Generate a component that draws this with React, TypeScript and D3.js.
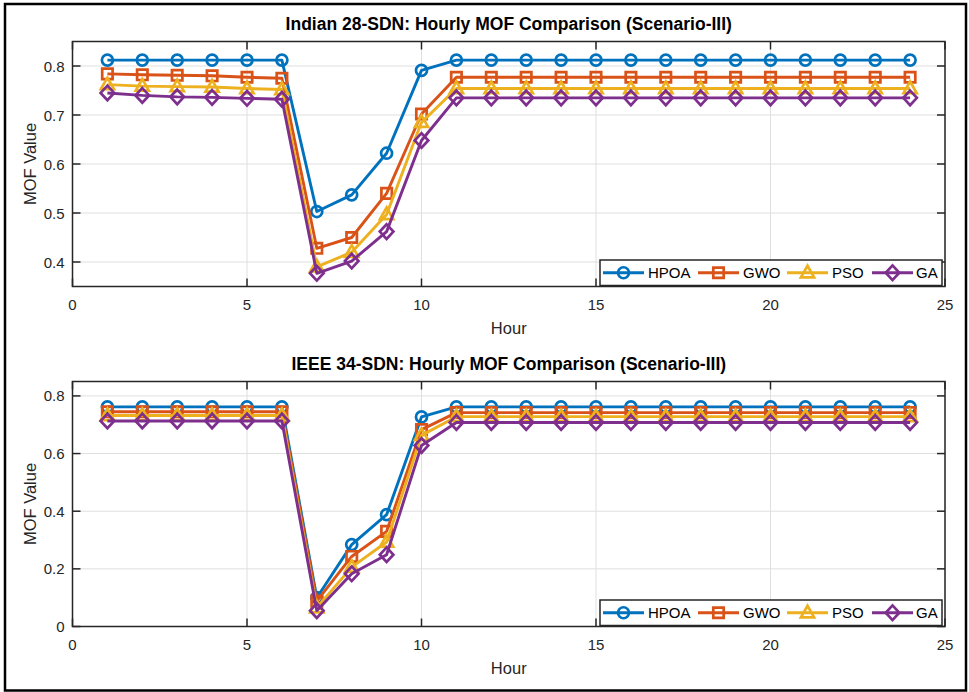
import React from "react";
import * as d3 from "d3";

// Hours on the x axis
const hours = [1, 2, 3, 4, 5, 6, 7, 8, 9, 10, 11, 12, 13, 14, 15, 16, 17, 18, 19, 20, 21, 22, 23, 24];

// Indian 28-SDN, Scenario-III
const indianHPOA = [0.812, 0.812, 0.812, 0.812, 0.812, 0.812, 0.503, 0.537, 0.622, 0.791, 0.812, 0.812, 0.812, 0.812, 0.812, 0.812, 0.812, 0.812, 0.812, 0.812, 0.812, 0.812, 0.812, 0.812];
const indianGWO = [0.784, 0.782, 0.781, 0.780, 0.777, 0.775, 0.428, 0.450, 0.540, 0.702, 0.777, 0.777, 0.777, 0.777, 0.777, 0.777, 0.777, 0.777, 0.777, 0.777, 0.777, 0.777, 0.777, 0.777];
const indianPSO = [0.762, 0.759, 0.758, 0.757, 0.754, 0.752, 0.390, 0.420, 0.497, 0.685, 0.754, 0.754, 0.754, 0.754, 0.754, 0.754, 0.754, 0.754, 0.754, 0.754, 0.754, 0.754, 0.754, 0.754];
const indianGA = [0.745, 0.740, 0.737, 0.736, 0.734, 0.732, 0.377, 0.402, 0.462, 0.648, 0.735, 0.735, 0.735, 0.735, 0.735, 0.735, 0.735, 0.735, 0.735, 0.735, 0.735, 0.735, 0.735, 0.735];

// IEEE 34-SDN, Scenario-III
const ieeeHPOA = [0.762, 0.762, 0.762, 0.762, 0.762, 0.762, 0.100, 0.284, 0.388, 0.727, 0.762, 0.762, 0.762, 0.762, 0.762, 0.762, 0.762, 0.762, 0.762, 0.762, 0.762, 0.762, 0.762, 0.762];
const ieeeGWO = [0.745, 0.745, 0.745, 0.745, 0.745, 0.745, 0.088, 0.243, 0.330, 0.683, 0.742, 0.742, 0.742, 0.742, 0.742, 0.742, 0.742, 0.742, 0.742, 0.742, 0.742, 0.742, 0.742, 0.742];
const ieeePSO = [0.732, 0.732, 0.732, 0.732, 0.732, 0.732, 0.065, 0.206, 0.293, 0.663, 0.728, 0.728, 0.728, 0.728, 0.728, 0.728, 0.728, 0.728, 0.728, 0.728, 0.728, 0.728, 0.728, 0.728];
const ieeeGA = [0.713, 0.713, 0.713, 0.713, 0.713, 0.713, 0.055, 0.183, 0.249, 0.628, 0.708, 0.708, 0.708, 0.708, 0.708, 0.708, 0.708, 0.708, 0.708, 0.708, 0.708, 0.708, 0.708, 0.708];

const seriesNames = ["HPOA", "GWO", "PSO", "GA"];
const seriesColors = ["#0072BD", "#D95319", "#EDB120", "#7E2F8E"];
const seriesMarkers = ["circle", "square", "triangle", "diamond"];

const xTicks = [0, 5, 10, 15, 20, 25];
const indianYTicks = [0.4, 0.5, 0.6, 0.7, 0.8];
const ieeeYTicks = [0, 0.2, 0.4, 0.6, 0.8];

const W = 969;
const H = 692;
const FONT = "'Liberation Sans', Arial, Helvetica, sans-serif";
const AXIS_COLOR = "#262626";
const GRID_COLOR = "#dfdfdf";

const panels = [
  {
    title: "Indian 28-SDN: Hourly MOF Comparison (Scenario-III)",
    yDomain: [0.35, 0.85],
    yTicks: indianYTicks,
    top: 41.5,
    bottom: 286.5,
    series: [indianHPOA, indianGWO, indianPSO, indianGA],
  },
  {
    title: "IEEE 34-SDN: Hourly MOF Comparison (Scenario-III)",
    yDomain: [0, 0.85],
    yTicks: ieeeYTicks,
    top: 381.5,
    bottom: 626.5,
    series: [ieeeHPOA, ieeeGWO, ieeePSO, ieeeGA],
  },
];

const LEFT = 72.5;
const RIGHT = 945;

function markerPath(kind: string): string {
  switch (kind) {
    case "circle":
      return "M5.5,0A5.5,5.5 0 1,1 -5.5,0A5.5,5.5 0 1,1 5.5,0Z";
    case "square":
      return "M-5.2,-5.2L5.2,-5.2L5.2,5.2L-5.2,5.2Z";
    case "triangle":
      return "M0,-7L6.6,4.6L-6.6,4.6Z";
    case "diamond":
      return "M0,-7.3L6.8,0L0,7.3L-6.8,0Z";
    default:
      return "";
  }
}

function fmtTick(v: number): string {
  return v === 0 ? "0" : v.toFixed(1);
}

// Legend item layout: line sample start, text start (relative to legend box)
const legendItems = [
  { line: 3, text: 48 },
  { line: 98, text: 143 },
  { line: 187, text: 232 },
  { line: 272, text: 316 },
];

function Panel({ p }: { p: (typeof panels)[number] }) {
  const x = d3.scaleLinear().domain([0, 25]).range([LEFT, RIGHT]);
  const y = d3.scaleLinear().domain(p.yDomain).range([p.bottom, p.top]);
  const line = d3
    .line<number>()
    .x((_, i) => x(hours[i]))
    .y((d) => y(d));
  const tick = 8;
  const legW = 342;
  const legH = 25.5;
  const legX = 600;
  const legY = p.bottom - legH - 1;
  return (
    <g>
      <rect x={LEFT} y={p.top} width={RIGHT - LEFT} height={p.bottom - p.top} fill="#fff" />
      {/* grid */}
      {xTicks.map((t) => (
        <line key={"gx" + t} x1={x(t)} x2={x(t)} y1={p.top} y2={p.bottom} stroke={GRID_COLOR} strokeWidth={1} />
      ))}
      {p.yTicks.map((t) => (
        <line key={"gy" + t} x1={LEFT} x2={RIGHT} y1={y(t)} y2={y(t)} stroke={GRID_COLOR} strokeWidth={1} />
      ))}
      {/* series lines */}
      {p.series.map((s, si) => (
        <g key={"s" + si}>
          <path d={line(s) || ""} fill="none" stroke={seriesColors[si]} strokeWidth={2.9} strokeLinejoin="round" />
          {s.map((v, i) => (
            <path
              key={i}
              d={markerPath(seriesMarkers[si])}
              transform={`translate(${x(hours[i])},${y(v)})`}
              fill="none"
              stroke={seriesColors[si]}
              strokeWidth={2.7}
            />
          ))}
        </g>
      ))}
      {/* ticks inside on all sides */}
      {xTicks.map((t) => (
        <g key={"tx" + t}>
          <line x1={x(t)} x2={x(t)} y1={p.bottom} y2={p.bottom - tick} stroke={AXIS_COLOR} strokeWidth={1.5} />
          <line x1={x(t)} x2={x(t)} y1={p.top} y2={p.top + tick} stroke={AXIS_COLOR} strokeWidth={1.5} />
          <text x={x(t)} y={p.bottom + 23} textAnchor="middle" fontSize={15} fill={AXIS_COLOR} fontFamily={FONT}>
            {t}
          </text>
        </g>
      ))}
      {p.yTicks.map((t) => (
        <g key={"ty" + t}>
          <line x1={LEFT} x2={LEFT + tick} y1={y(t)} y2={y(t)} stroke={AXIS_COLOR} strokeWidth={1.5} />
          <line x1={RIGHT} x2={RIGHT - tick} y1={y(t)} y2={y(t)} stroke={AXIS_COLOR} strokeWidth={1.5} />
          <text x={LEFT - 8} y={y(t) + 5.5} textAnchor="end" fontSize={15} fill={AXIS_COLOR} fontFamily={FONT}>
            {fmtTick(t)}
          </text>
        </g>
      ))}
      <rect x={LEFT} y={p.top} width={RIGHT - LEFT} height={p.bottom - p.top} fill="none" stroke={AXIS_COLOR} strokeWidth={1.5} />
      {/* titles */}
      <text x={(LEFT + RIGHT) / 2} y={p.top - 12} textAnchor="middle" fontSize={17.5} fontWeight="bold" fill="#000" fontFamily={FONT}>
        {p.title}
      </text>
      <text x={(LEFT + RIGHT) / 2} y={p.bottom + 47} textAnchor="middle" fontSize={16.5} fill={AXIS_COLOR} fontFamily={FONT}>
        Hour
      </text>
      <text
        transform={`translate(36,${(p.top + p.bottom) / 2}) rotate(-90)`}
        textAnchor="middle"
        fontSize={16.5}
        fill={AXIS_COLOR}
        fontFamily={FONT}
      >
        MOF Value
      </text>
      {/* legend */}
      <g transform={`translate(${legX},${legY})`}>
        <rect x={0} y={0} width={legW} height={legH} fill="#fff" stroke={AXIS_COLOR} strokeWidth={1.5} />
        {seriesNames.map((n, i) => (
          <g key={n}>
            <line
              x1={legendItems[i].line}
              x2={legendItems[i].line + 41}
              y1={legH / 2}
              y2={legH / 2}
              stroke={seriesColors[i]}
              strokeWidth={2.9}
            />
            <path
              d={markerPath(seriesMarkers[i])}
              transform={`translate(${legendItems[i].line + 20.5},${legH / 2})`}
              fill="none"
              stroke={seriesColors[i]}
              strokeWidth={2.7}
            />
            <text x={legendItems[i].text} y={legH / 2 + 5.5} fontSize={15} fill="#000" fontFamily={FONT}>
              {n}
            </text>
          </g>
        ))}
      </g>
    </g>
  );
}

export default function App() {
  return (
    <svg
      width={W}
      height={H}
      viewBox={`0 0 ${W} ${H}`}
      style={{ position: "absolute", left: 0, top: 0, display: "block", background: "#fff" }}
    >
      <rect x={0} y={0} width={W} height={H} fill="#fff" />
      <rect x={5} y={4} width={961} height={686.5} fill="none" stroke="#000" strokeWidth={2.5} />
      {panels.map((p, i) => (
        <Panel key={i} p={p} />
      ))}
    </svg>
  );
}
